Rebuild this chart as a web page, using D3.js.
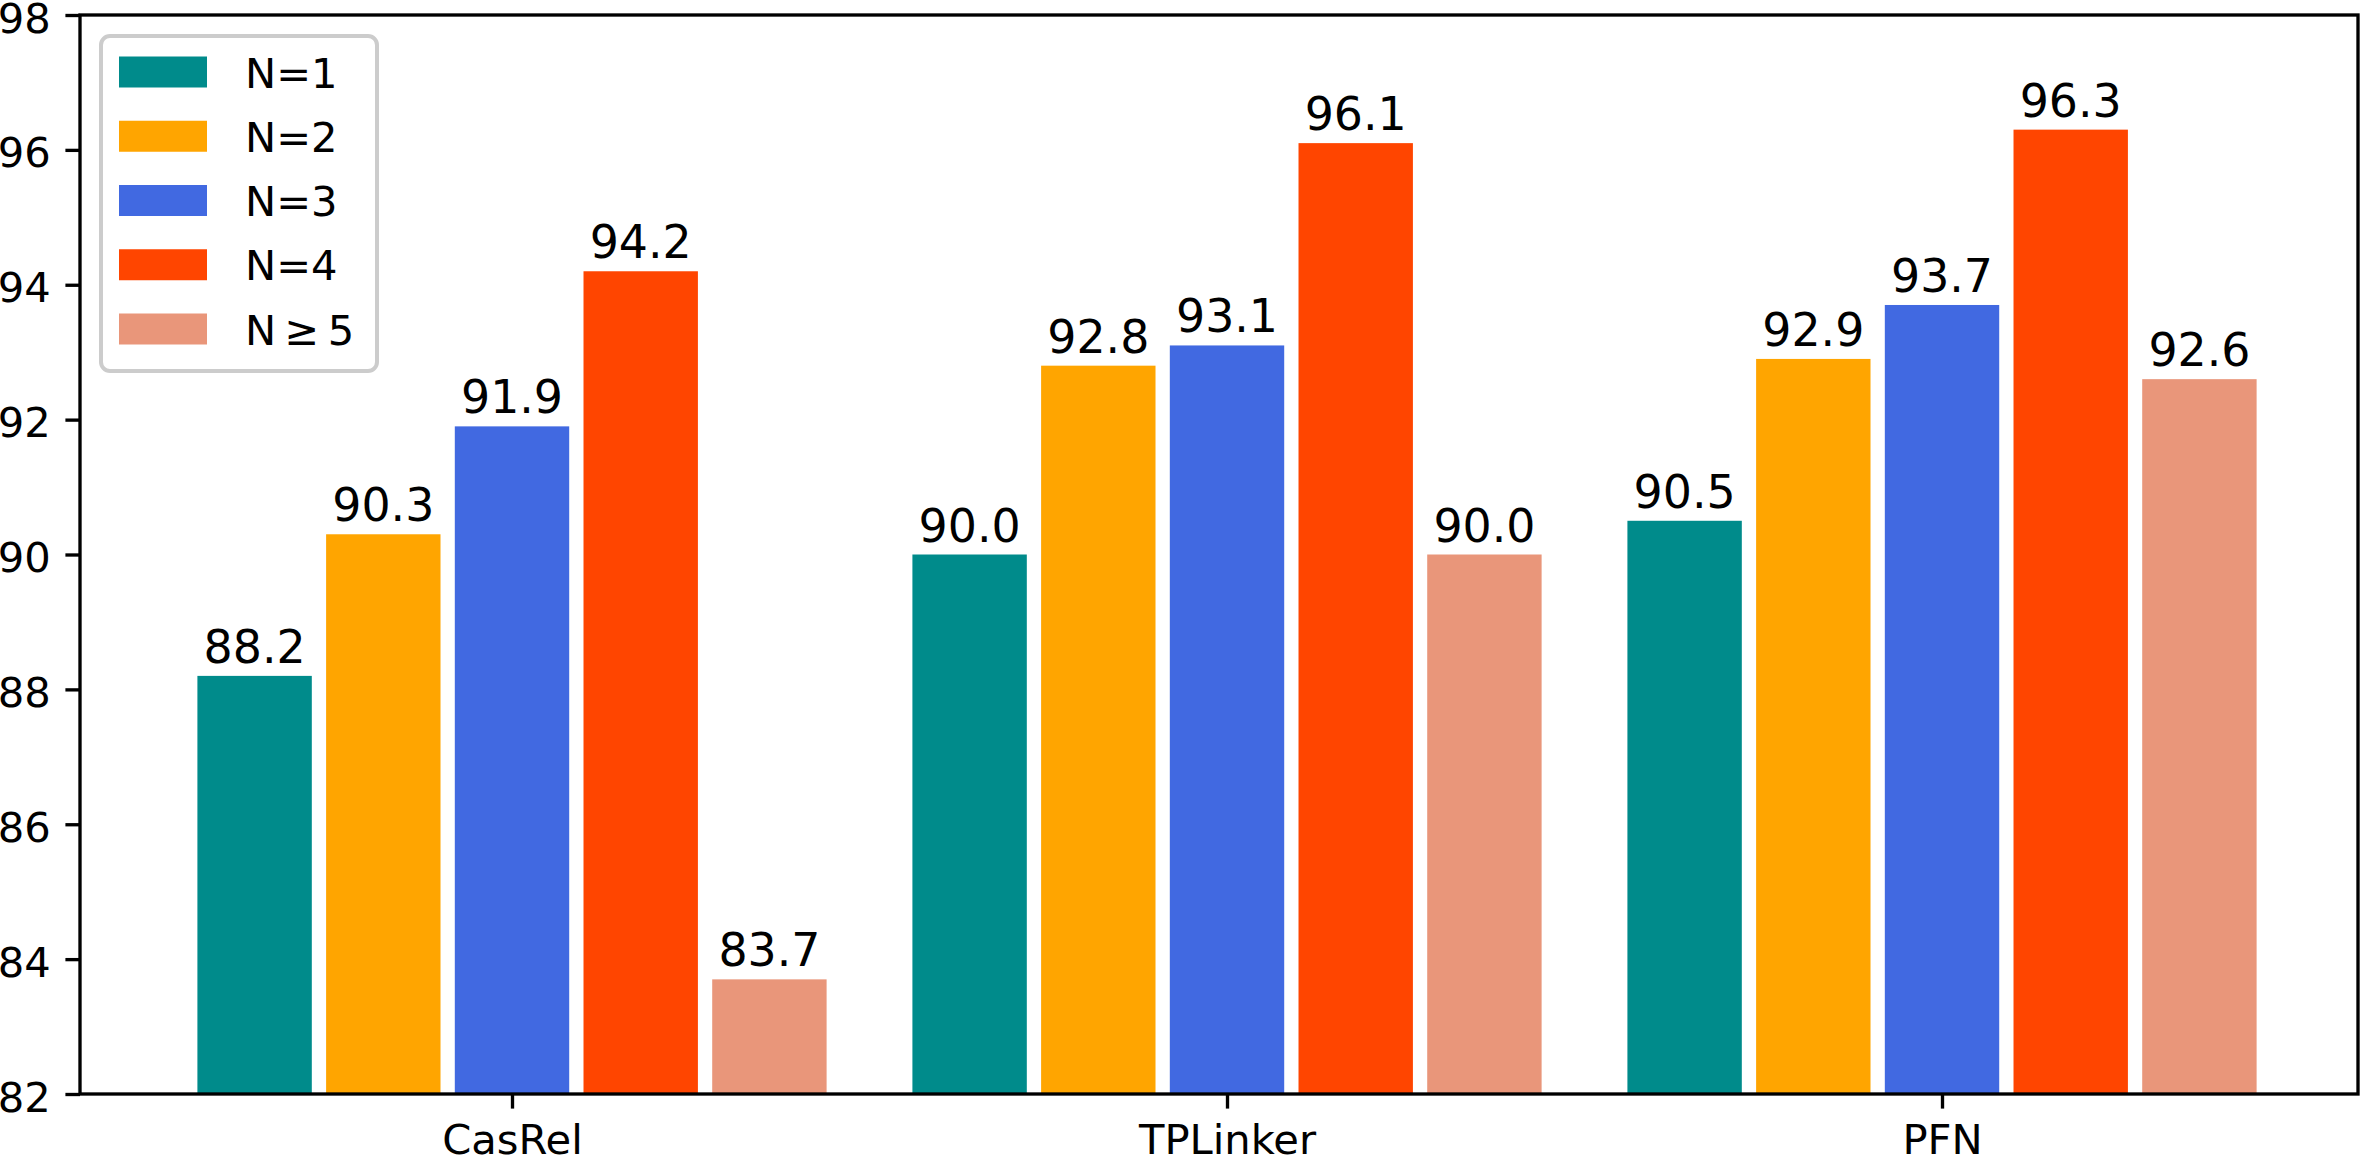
<!DOCTYPE html>
<html>
<head>
<meta charset="utf-8">
<script src="https://cdn.jsdelivr.net/npm/d3@7"></script>
<style>
  html, body { margin: 0; padding: 0; background: #fff; }
  svg { display: block; }
  text { font-family: "DejaVu Sans", sans-serif; fill: #000; }
</style>
</head>
<body>
<svg id="chart" width="2360" height="1157"></svg>
<script>
// ---- data ----
const categories = ["CasRel", "TPLinker", "PFN"];
const seriesNames = ["N=1", "N=2", "N=3", "N=4", "N\u2009\u2265\u20095"];
const seriesColors = ["#008B8B", "#FFA500", "#4169E1", "#FF4500", "#E9967A"];
const valuesN1 = [88.2, 90.0, 90.5];
const valuesN2 = [90.3, 92.8, 92.9];
const valuesN3 = [91.9, 93.1, 93.7];
const valuesN4 = [94.2, 96.1, 96.3];
const valuesN5 = [83.7, 90.0, 92.6];
const yTicks = [82, 84, 86, 88, 90, 92, 94, 96, 98];

const series = [valuesN1, valuesN2, valuesN3, valuesN4, valuesN5];

// ---- layout ----
const plotLeft = 80, plotRight = 2358, plotTop = 15, plotBottom = 1094;
const lw = 3.33;
const tickLen = 14.6, tickPad = 14.6;
const barWidth = 0.16, barStep = 0.18;

const svg = d3.select("#chart");

const x = d3.scaleLinear().domain([-0.6042, 2.5818]).range([plotLeft, plotRight]);
const y = d3.scaleLinear().domain([82, 98]).range([plotBottom, plotTop]);

// bars
const gBars = svg.append("g");
series.forEach((vals, si) => {
  const off = (si - 2) * barStep;
  gBars.selectAll(null)
    .data(vals.map((v, ci) => ({ v, ci })))
    .enter()
    .append("rect")
    .attr("x", d => x(d.ci + off - barWidth / 2))
    .attr("width", d => x(d.ci + off + barWidth / 2) - x(d.ci + off - barWidth / 2))
    .attr("y", d => y(d.v))
    .attr("height", d => y(82) - y(d.v))
    .attr("fill", seriesColors[si]);

  gBars.selectAll(null)
    .data(vals.map((v, ci) => ({ v, ci })))
    .enter()
    .append("text")
    .attr("x", d => x(d.ci + off))
    .attr("y", d => y(d.v) - 13)
    .attr("text-anchor", "middle")
    .attr("font-size", 45.83)
    .text(d => d.v.toFixed(1));
});

// y axis
const yAxis = d3.axisLeft(y).tickValues(yTicks).tickSize(tickLen).tickPadding(tickPad)
  .tickFormat(d3.format("d"));
const gy = svg.append("g").attr("transform", `translate(${plotLeft},0)`).call(yAxis);
gy.select(".domain").remove();
gy.selectAll(".tick line").attr("stroke", "#000").attr("stroke-width", lw);
gy.selectAll(".tick text")
  .attr("font-family", "DejaVu Sans, sans-serif")
  .attr("font-size", 41.67)
  .attr("fill", "#000")
  .attr("dy", null)
  .attr("y", 17);

// x axis
const xAxis = d3.axisBottom(x).tickValues([0, 1, 2]).tickSize(tickLen).tickPadding(tickPad)
  .tickFormat(i => categories[i]);
const gx = svg.append("g").attr("transform", `translate(0,${plotBottom})`).call(xAxis);
gx.select(".domain").remove();
gx.selectAll(".tick line").attr("stroke", "#000").attr("stroke-width", lw);
gx.selectAll(".tick text")
  .attr("font-family", "DejaVu Sans, sans-serif")
  .attr("font-size", 41.67)
  .attr("fill", "#000")
  .attr("dy", null)
  .attr("y", tickLen + tickPad + 30.4);

// frame (spines)
svg.append("rect")
  .attr("x", plotLeft).attr("y", plotTop)
  .attr("width", plotRight - plotLeft).attr("height", plotBottom - plotTop)
  .attr("fill", "none").attr("stroke", "#000").attr("stroke-width", lw);

// legend
const lg = svg.append("g");
lg.append("rect")
  .attr("x", 101).attr("y", 36).attr("width", 276).attr("height", 335)
  .attr("rx", 9).attr("ry", 9)
  .attr("fill", "#fff").attr("fill-opacity", 0.8)
  .attr("stroke", "#cccccc").attr("stroke-width", 4);
const rowY = d3.scaleLinear().domain([0, 4]).range([72, 329]);
seriesNames.forEach((name, i) => {
  lg.append("rect")
    .attr("x", 119).attr("y", rowY(i) - 15.5)
    .attr("width", 88).attr("height", 31)
    .attr("fill", seriesColors[i]);
  lg.append("text")
    .attr("x", 245).attr("y", rowY(i) + 15.5)
    .attr("font-size", 41.67)
    .text(name);
});
</script>
</body>
</html>
